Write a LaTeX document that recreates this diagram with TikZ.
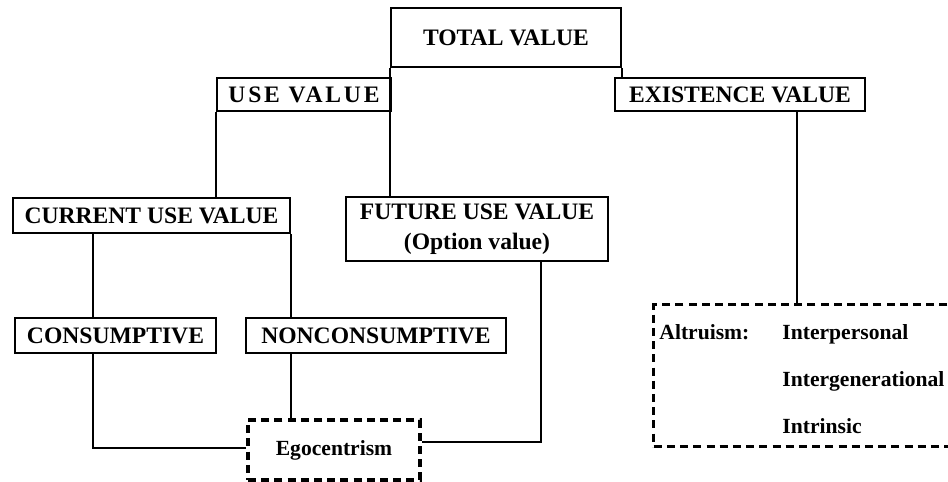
\documentclass[tikz,border=0pt]{standalone}
\usepackage{fontspec}
\setmainfont{Liberation Serif}
\usetikzlibrary{positioning}

\begin{document}
\begin{tikzpicture}
    [x=0.5pt, y=-0.5pt,
    valbox/.style={draw, line width=1.2pt, inner sep=0pt, font=\bfseries\fontsize{11.8}{15}\selectfont},
    motive/.style={draw, line width=1.7pt, dash pattern=on 4pt off 2.6pt, inner sep=0pt},
    small/.style={font=\bfseries\fontsize{10.8}{13}\selectfont, inner sep=0pt},
    link/.style={line width=1.2pt}]
     \useasboundingbox (0,0) rectangle (948,482);
     \clip (0,0) rectangle (948,482);
     \node[valbox, minimum width=115pt, minimum height=29.5pt] (total) at (506, 37.5)  {TOTAL VALUE};
     \node[valbox, minimum width=87pt, minimum height=16.5pt] (use) at (304, 94.5)     {\addfontfeatures{LetterSpace=12}USE VALUE};
     \node[valbox, minimum width=125pt, minimum height=16.5pt] (exist) at (740, 94.5)  {EXISTENCE VALUE};
     \node[valbox, minimum width=138.5pt, minimum height=17.5pt] (current) at (151.5, 215.5) {CURRENT USE VALUE};
     \node[valbox, minimum width=131pt, minimum height=32pt, align=center] (future) at (477, 229) {FUTURE USE VALUE\\(Option value)};
     \node[valbox, minimum width=100.5pt, minimum height=17.5pt] (cons) at (115.5, 335.5) {CONSUMPTIVE};
     \node[valbox, minimum width=130pt, minimum height=17.5pt] (noncons) at (376, 335.5) {NONCONSUMPTIVE};
     \node[motive, small, minimum width=86pt, minimum height=30pt] (ego) at (334, 450) {Egocentrism};
     \node[motive, minimum width=160pt, minimum height=71pt, anchor=north west] (alt) at (652, 303) {};
     \node[small, anchor=base west] (altr) at (659, 339)   {Altruism:};
     \node[small, anchor=base west] (inter1) at (782, 339) {Interpersonal};
     \node[small, anchor=base west] (inter2) at (782, 386) {Intergenerational};
     \node[small, anchor=base west] (inter3) at (782, 433) {Intrinsic};
     % tree
     \draw[link] (total.south west) -- (total.south west |- future.north);
     \draw[link] (total.south east) -- (total.south east |- exist.north);
     \draw[link] (use.south west) -- (use.south west |- current.north);
     \draw[link] ([xshift=28.5pt]exist.south) -- ([xshift=28.5pt]exist.south |- alt.north);
     \draw[link] ([xshift=-29.25pt]current.south) -- ([xshift=-29.25pt]current.south |- cons.north);
     \draw[link] (current.south east) -- (current.south east |- noncons.north);
     % down to egocentrism
     \draw[link] ([xshift=-11.25pt]cons.south) |- ([yshift=1pt]ego.west);
     \draw[link] (noncons.south -| current.south east) -- (ego.north -| current.south east);
     \draw[link] ([xshift=32pt]future.south) |- ([yshift=4pt]ego.east);
\end{tikzpicture}
\end{document}
